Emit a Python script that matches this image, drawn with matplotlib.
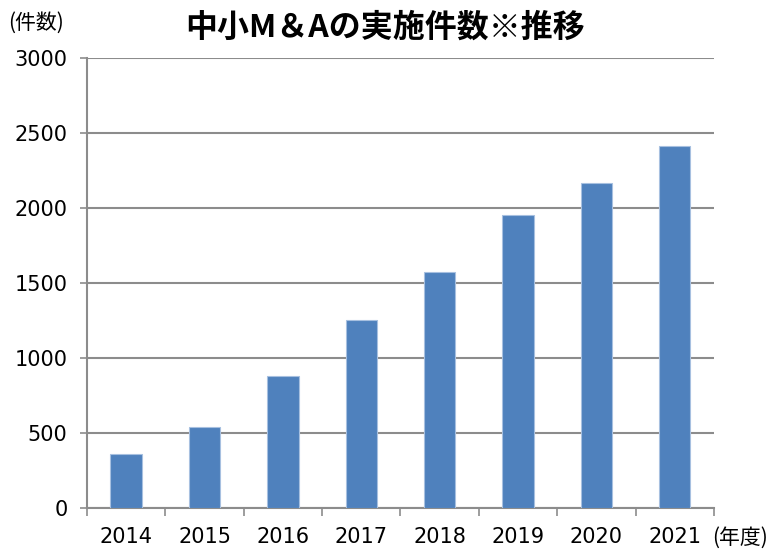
import matplotlib.pyplot as plt
import numpy as np

plt.rcParams['font.family'] = ['DejaVu Sans', 'Noto Sans CJK JP']

# データ
years = ['2014', '2015', '2016', '2017', '2018', '2019', '2020', '2021']
counts = [360, 540, 878, 1253, 1570, 1955, 2168, 2412]

fig = plt.figure(figsize=(7.71, 5.49), dpi=100)
ax = fig.add_axes([0.1128, 0.0747, 0.8132, 0.8197])

x = np.arange(len(years))
ax.bar(x, counts, width=0.4, color='#4F81BD', edgecolor='#A7C0E0', linewidth=0.8, zorder=3)

ax.set_xlim(-0.5, len(years) - 0.5)
ax.set_ylim(0, 3000)
ax.set_yticks(np.arange(0, 3001, 500))
ax.yaxis.grid(True, color='#8C8C8C', linewidth=1.5, zorder=0)

# x軸の目盛りは区切り位置に
ax.set_xticks(np.arange(-0.5, len(years), 1.0))
ax.set_xticklabels([])
ax.set_xticks(x, minor=True)
ax.set_xticklabels(years, minor=True)
ax.tick_params(axis='x', which='minor', length=0, pad=14, labelsize=15)
ax.tick_params(axis='x', which='major', length=6, width=1.2, color='#8C8C8C')
ax.tick_params(axis='y', length=5, width=1.2, color='#8C8C8C', labelsize=15, pad=9)

for s in ['top', 'right']:
    ax.spines[s].set_visible(False)
for s in ['left', 'bottom']:
    ax.spines[s].set_color('#8C8C8C')
    ax.spines[s].set_linewidth(1.5)

fig.text(0.5, 0.949, '中小M＆Aの実施件数※推移', ha='center', va='center',
         fontsize=23, fontweight='bold', family=['Noto Sans CJK JP', 'DejaVu Sans'])
fig.text(0.01, 0.958, '(件数)', ha='left', va='center', fontsize=15,
         family=['Noto Sans CJK JP', 'DejaVu Sans'])
fig.text(0.924, 0.02, '(年度)', ha='left', va='center', fontsize=15,
         family=['Noto Sans CJK JP', 'DejaVu Sans'])

plt.savefig('out.png', dpi=100)
